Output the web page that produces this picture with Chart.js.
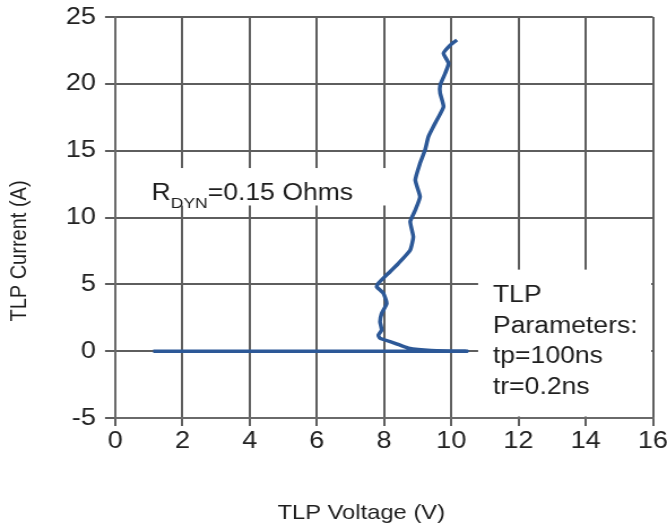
<!DOCTYPE html>
<html>
<head>
<meta charset="utf-8">
<script src="https://cdn.jsdelivr.net/npm/chart.js@4/dist/chart.umd.min.js"></script>
<style>
  html, body { margin: 0; padding: 0; background: #fff; overflow: hidden; }
  #wrap { width: 590px; height: 524px; transform: scaleX(1.1305); transform-origin: 0 0; }
</style>
</head>
<body>
<div id="wrap"><canvas id="c" width="590" height="524"></canvas></div>
<script>
// ---- data ----
const voltage = [1.13, 10.46, 9.4, 8.73, 8.33, 7.88, 7.83, 7.93, 7.88, 7.93, 8.08, 7.98, 7.78, 7.83, 8.13, 8.43, 8.78, 8.87, 8.78, 8.93, 9.07, 8.93, 9.07, 9.22, 9.32, 9.52, 9.77, 9.67, 9.67, 9.82, 9.92, 9.77, 9.97, 10.17];
const current = [0, 0, 0.05, 0.22, 0.59, 0.96, 1.21, 1.58, 2.21, 2.83, 3.58, 4.33, 4.82, 5.08, 5.83, 6.57, 7.57, 8.56, 9.69, 10.56, 11.56, 12.8, 14.05, 15.05, 16.04, 17.05, 18.29, 19.29, 19.91, 20.79, 21.53, 22.28, 22.9, 23.28];
const xTicksRange = { min: 0, max: 16, step: 2 };
const yTicksRange = { min: -5, max: 25, step: 5 };
const xTitle = 'TLP Voltage (V)';
const yTitle = 'TLP Current (A)';
const rdynMain = 'R';
const rdynSub = 'DYN';
const rdynRest = '=0.15 Ohms';
const paramLines = ['TLP', 'Parameters:', 'tp=100ns', 'tr=0.2ns'];

// ---- annotation geometry (data units) ----
const rdynBox = { xMin: 0.9, xMax: 8.2, yMin: 10.9, yMax: 13.7 };
const rdynAt = { x: 1.08, y: 11.31 };
const paramBox = { xMin: 10.8, xMax: 16, yMin: -5, yMax: 6.1 };
const paramAt = { x: 11.24, y: 3.68 };

const FONT = "'Liberation Sans', Arial, sans-serif";
const pts = voltage.map((v, i) => ({ x: v, y: current[i] }));

const annot = {
  id: 'annot',
  beforeDatasetsDraw(chart) {
    const { ctx, scales: { x, y }, chartArea: ca } = chart;
    ctx.save();
    ctx.fillStyle = '#ffffff';
    const bx = (b) => {
      let l = Math.max(x.getPixelForValue(b.xMin), ca.left + 1.5);
      let r = Math.min(x.getPixelForValue(b.xMax), ca.right - 1.5);
      let t = Math.max(y.getPixelForValue(b.yMax), ca.top + 1.5);
      let bo = Math.min(y.getPixelForValue(b.yMin), ca.bottom - 1.5);
      ctx.fillRect(l, t, r - l, bo - t);
    };
    bx(rdynBox);
    bx(paramBox);
    ctx.restore();
  },
  afterDraw(chart) {
    const { ctx, scales: { x, y } } = chart;
    ctx.save();
    ctx.fillStyle = '#1e1e1e';
    ctx.textBaseline = 'alphabetic';
    ctx.textAlign = 'left';
    // R_DYN label
    let px = x.getPixelForValue(rdynAt.x);
    const py = y.getPixelForValue(rdynAt.y);
    ctx.font = '23.5px ' + FONT;
    ctx.fillText(rdynMain, px, py);
    px += ctx.measureText(rdynMain).width;
    ctx.font = '15.5px ' + FONT;
    ctx.fillText(rdynSub, px, py + 8);
    px += ctx.measureText(rdynSub).width;
    ctx.font = '23.5px ' + FONT;
    ctx.fillText(rdynRest, px, py);
    // TLP parameters
    const tx = x.getPixelForValue(paramAt.x);
    const ty = y.getPixelForValue(paramAt.y);
    ctx.font = '23.5px ' + FONT;
    paramLines.forEach((s, i) => ctx.fillText(s, tx, ty + i * 30.7));
    // axis titles
    ctx.font = '21px ' + FONT;
    ctx.textAlign = 'center';
    ctx.fillText(xTitle, 319.5, 518.5);
    ctx.translate(17.7, 251);
    ctx.rotate(-Math.PI / 2);
    ctx.font = '20px ' + FONT;
    ctx.textBaseline = 'middle';
    ctx.fillText(yTitle, 0, 0);
    ctx.restore();
  }
};

const gridCol = '#5e5e5e';
new Chart(document.getElementById('c'), {
  type: 'line',
  data: {
    datasets: [{
      data: pts,
      borderColor: '#2c5897',
      borderWidth: 3.5,
      pointRadius: 0,
      tension: 0.15,
      fill: false
    }]
  },
  options: {
    responsive: false,
    animation: false,
    devicePixelRatio: 1,
    layout: { padding: { top: 17, right: 12.5, left: 0, bottom: 0 } },
    plugins: { legend: { display: false }, tooltip: { enabled: false } },
    scales: {
      x: {
        type: 'linear', min: xTicksRange.min, max: xTicksRange.max,
        ticks: { stepSize: xTicksRange.step, font: { family: FONT, size: 24 }, color: '#222', padding: 1, maxRotation: 0 },
        grid: { color: gridCol, lineWidth: 2, tickLength: 8 },
        border: { color: '#6a6a6a', width: 2 },
        afterFit(s) { s.height = 106; s.paddingLeft = 0; s.paddingRight = 0; }
      },
      y: {
        type: 'linear', min: yTicksRange.min, max: yTicksRange.max,
        ticks: { stepSize: yTicksRange.step, font: { family: FONT, size: 24 }, color: '#222', padding: 8 },
        grid: { color: gridCol, lineWidth: 2, tickLength: 9 },
        border: { color: '#6a6a6a', width: 2 },
        afterFit(s) { s.width = 101.9; s.paddingTop = 0; s.paddingBottom = 0; }
      }
    }
  },
  plugins: [annot]
});
</script>
</body>
</html>
